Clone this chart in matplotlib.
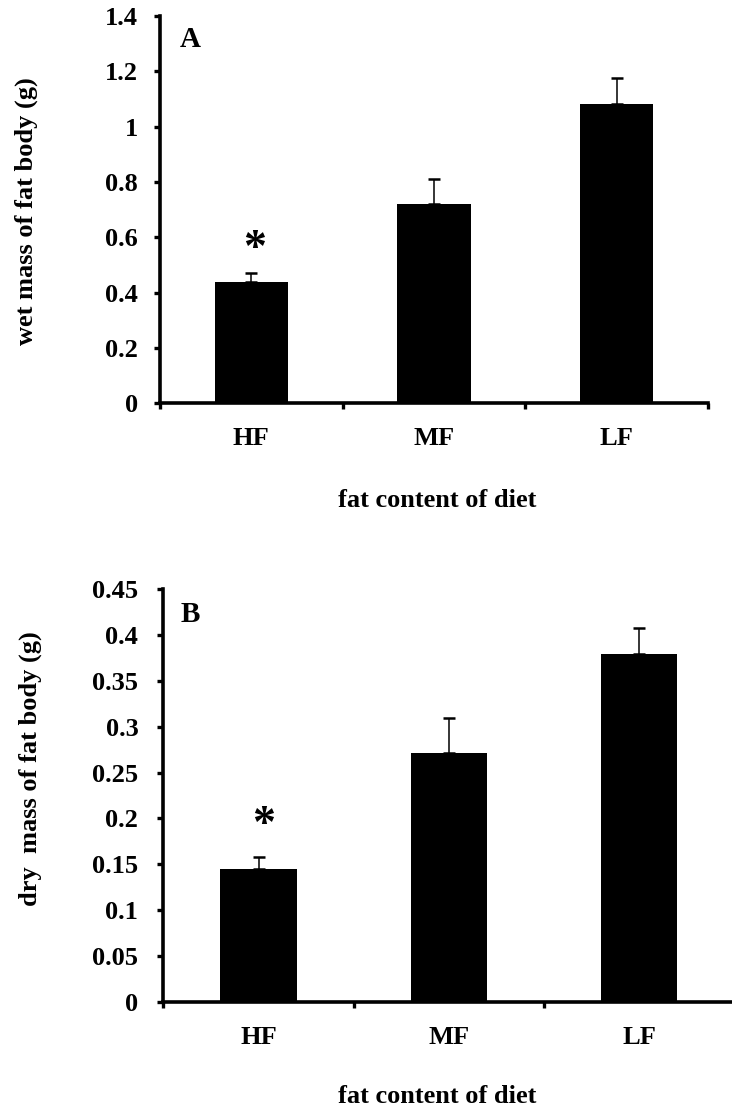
import matplotlib
matplotlib.use("Agg")
import matplotlib.pyplot as plt
from matplotlib.ticker import FixedLocator, FixedFormatter

plt.rcParams['font.family'] = ['Liberation Serif', 'DejaVu Serif']
plt.rcParams['font.weight'] = 'bold'

# Diet groups
categories = ["HF", "MF", "LF"]

# Panel A: wet mass of fat body (g), mean and SE
wet_mass = [0.44, 0.721, 1.083]
wet_se = [0.03, 0.091, 0.093]
wet_ticks = [0, 0.2, 0.4, 0.6, 0.8, 1.0, 1.2, 1.4]
wet_ticklabels = ["0", "0.2", "0.4", "0.6", "0.8", "1", "1.2", "1.4"]

# Panel B: dry mass of fat body (g), mean and SE
dry_mass = [0.1445, 0.2718, 0.3795]
dry_se = [0.0135, 0.038, 0.0285]
dry_ticks = [0, 0.05, 0.1, 0.15, 0.2, 0.25, 0.3, 0.35, 0.4, 0.45]
dry_ticklabels = ["0", "0.05", "0.1", "0.15", "0.2", "0.25", "0.3", "0.35", "0.4", "0.45"]

# Significance marks (group position, height)
wet_star = (0.02, 0.555)
dry_star = (0.025, 0.192)

FS = 19
W, H = 732, 1113
fig = plt.figure(figsize=(W / 100, H / 100), dpi=100)


def px_axes(left, right, top, bottom):
    return [left / W, 1 - bottom / H, (right - left) / W, (bottom - top) / H]


def panel(ax, values, errs, ticks, ticklabels, ymax, letter, letter_x,
          ylabel, star, ylab_xy, xlab_xy, ypad, xpad):
    x = list(range(len(categories)))
    ax.bar(x, values, width=0.4, color="black", edgecolor="black",
           linewidth=0, zorder=2)
    ax.errorbar(x, values, yerr=[[0] * len(errs), errs], fmt="none",
                ecolor="black", elinewidth=1.1, capsize=4.4, capthick=1.8,
                zorder=3)
    ax.set_xlim(-0.5, len(categories) - 0.5)
    ax.set_ylim(0, ymax)

    for side in ("top", "right"):
        ax.spines[side].set_visible(False)
    for side in ("left", "bottom"):
        ax.spines[side].set_linewidth(2.6)

    ax.yaxis.set_major_locator(FixedLocator(ticks))
    ax.yaxis.set_major_formatter(FixedFormatter(ticklabels))
    ax.tick_params(axis="y", which="major", direction="out", length=4,
                   width=2.4, pad=ypad, labelsize=FS)

    ax.xaxis.set_major_locator(FixedLocator([i - 0.5 for i in range(len(categories) + 1)]))
    ax.xaxis.set_major_formatter(FixedFormatter([""] * (len(categories) + 1)))
    ax.xaxis.set_minor_locator(FixedLocator(x))
    ax.xaxis.set_minor_formatter(FixedFormatter(categories))
    ax.tick_params(axis="x", which="major", direction="out", length=4,
                   width=2.4)
    ax.tick_params(axis="x", which="minor", length=0, pad=xpad, labelsize=FS)
    for lab in ax.get_xticklabels(minor=True) + ax.get_yticklabels():
        lab.set_fontweight("bold")

    ax.text(letter_x, 0.94, letter, transform=ax.transAxes, fontsize=21,
            fontweight="bold", ha="left", va="center")
    ax.text(star[0], star[1], "*", fontsize=33, fontweight="bold",
            ha="center", va="center")

    ax.set_ylabel(ylabel, fontsize=FS, fontweight="bold", va="center")
    ax.yaxis.set_label_coords(*ylab_xy)
    ax.set_xlabel("fat content of diet", fontsize=FS, fontweight="bold",
                  va="center")
    ax.xaxis.set_label_coords(*xlab_xy)


axA = fig.add_axes(px_axes(160, 708, 16, 403.5))
panel(axA, wet_mass, wet_se, wet_ticks, wet_ticklabels, 1.4, "A", 0.036,
      "wet mass of fat body (g)", wet_star,
      (-0.2445, 0.497), (0.505, -0.251), 12, 17)

axB = fig.add_axes(px_axes(163.3, 734.5, 589.3, 1001.7))
panel(axB, dry_mass, dry_se, dry_ticks, dry_ticklabels, 0.45, "B", 0.03,
      "dry  mass of fat body (g)", dry_star,
      (-0.2334, 0.565), (0.479, -0.231), 14, 17.5)

fig.savefig("out.png", dpi=100)
